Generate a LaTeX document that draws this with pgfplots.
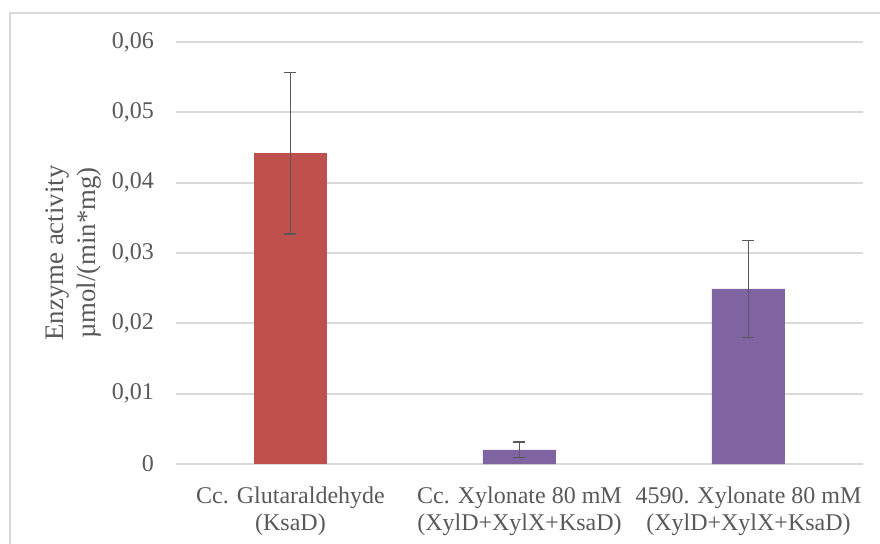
\documentclass[border=0pt]{standalone}
\usepackage{pgfplots}
\usepackage{pgfplotstable}
\pgfplotsset{compat=1.18}
\usepackage{fontspec}
\setmainfont{Liberation Serif}
\definecolor{txt}{HTML}{595959}
\definecolor{gridc}{HTML}{D9D9D9}
\definecolor{barred}{HTML}{C0504D}
\definecolor{barpurple}{HTML}{8064A2}
\pgfplotstableread{
x y err
0 0.0442 0.0115
}\redtable
\pgfplotstableread{
x y err
1 0.0020 0.0011
2 0.0249 0.0069
}\purpletable
\begin{document}
\begin{tikzpicture}
\useasboundingbox (0pt,0pt) rectangle (440pt,271.5pt);
\draw[gridc, line width=0.9pt] (5pt,-5pt) -- (5pt,265pt) -- (445pt,265pt);
\begin{axis}[
  at={(88pt,39.5pt)}, anchor=south west, scale only axis,
  width=343.5pt, height=211pt,
  xmin=-0.5, xmax=2.5, ymin=0, ymax=0.06,
  axis line style={draw=none},
  major tick length=0pt,
  ytick={0,0.01,0.02,0.03,0.04,0.05,0.06},
  ymajorgrids, grid style={gridc, line width=1pt},
  /pgf/number format/assume math mode=true,
  yticklabel style={/pgf/number format/use comma, /pgf/number format/fixed, /pgf/number format/precision=2},
  yticklabel style={text=txt, font=\fontsize{12}{14}\selectfont, xshift=-7.5pt},
  scaled y ticks=false,
  xtick={0,1,2},
  xticklabels={{Cc. Glutaraldehyde\\(KsaD)},{Cc. Xylonate 80 mM\\(XylD+XylX+KsaD)},{4590. Xylonate 80 mM\\(XylD+XylX+KsaD)}},
  xticklabel style={align=center, text=txt, font=\fontsize{12}{13.5}\selectfont, yshift=-8pt},
  ylabel={Enzyme activity\\µmol/(min*mg)},
  ylabel style={align=center, text=txt, font=\fontsize{13.4}{16}\selectfont, at={(rel axis cs:0,0.5)}, anchor=south, yshift=34pt},
  clip=false,
]
\addplot[ybar, bar width=36.5pt, bar shift=0pt, fill=barred, draw=none,
  error bars/.cd, y dir=both, y explicit,
  error bar style={line width=0.75pt, color=txt},
  error mark options={rotate=90, mark size=3pt, line width=0.75pt, color=txt}]
  table[x=x, y=y, y error=err] {\redtable};
\addplot[ybar, bar width=36.5pt, bar shift=0pt, fill=barpurple, draw=none,
  error bars/.cd, y dir=both, y explicit,
  error bar style={line width=0.75pt, color=txt},
  error mark options={rotate=90, mark size=3pt, line width=0.75pt, color=txt}]
  table[x=x, y=y, y error=err] {\purpletable};
\end{axis}
\end{tikzpicture}
\end{document}
